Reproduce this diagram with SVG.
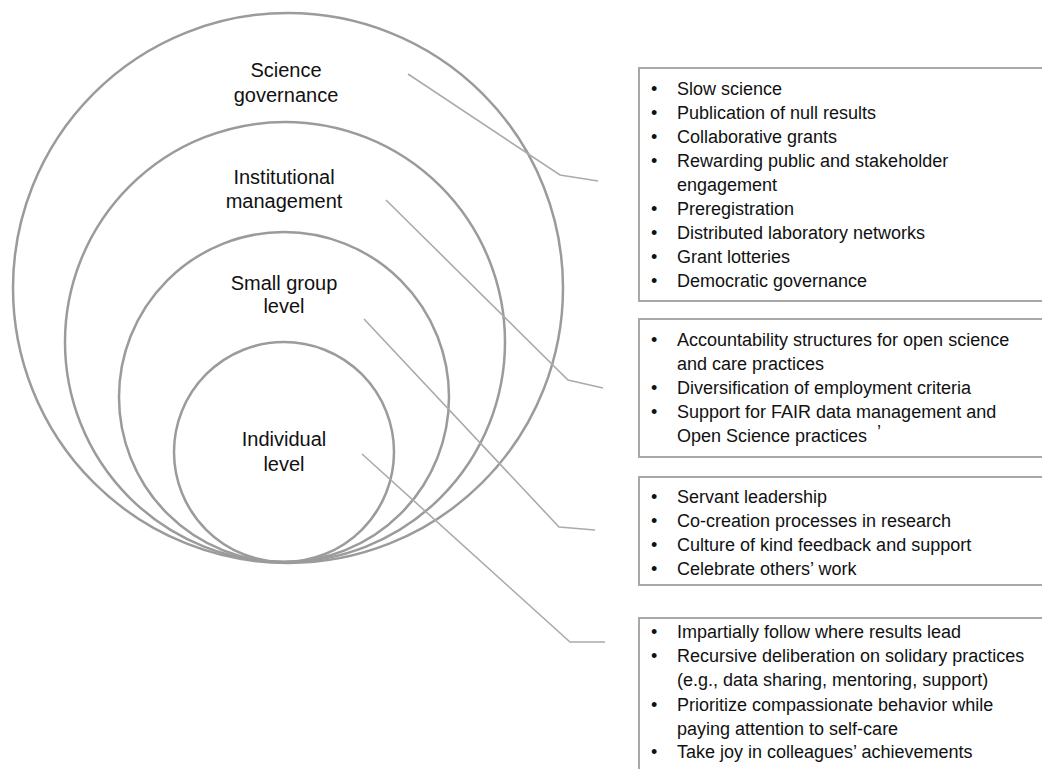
<svg xmlns="http://www.w3.org/2000/svg" width="1042" height="769" viewBox="0 0 1042 769">
<style>
.ring{fill:none;stroke:#9b9b9b;stroke-width:2.5}
.box{fill:#fff;stroke:#a8a8a8;stroke-width:2}
.con{fill:none;stroke:#ababab;stroke-width:1.6}
.lbl{font-family:"Liberation Sans",Arial,sans-serif;font-size:20px;fill:#111;text-anchor:middle}
.t{font-family:"Liberation Sans",Arial,sans-serif;font-size:18px;fill:#111}
</style>
<rect width="1042" height="769" fill="#fff"/>
<g id="ring-science-governance">
<circle class="ring" cx="288" cy="288" r="275"/>
<text class="lbl" x="286" y="77">Science</text>
<text class="lbl" x="286" y="102">governance</text>
</g>
<g id="ring-institutional-management">
<circle class="ring" cx="285" cy="342" r="220"/>
<text class="lbl" x="284" y="184">Institutional</text>
<text class="lbl" x="284" y="208">management</text>
</g>
<g id="ring-small-group">
<circle class="ring" cx="284" cy="397" r="165"/>
<text class="lbl" x="284" y="290">Small group</text>
<text class="lbl" x="284" y="313">level</text>
</g>
<g id="ring-individual">
<circle class="ring" cx="284" cy="452" r="110"/>
<text class="lbl" x="284" y="446">Individual</text>
<text class="lbl" x="284" y="471">level</text>
</g>
<g id="connectors">
<polyline class="con" points="408,74 560,175 598,181"/>
<polyline class="con" points="386,200 568,380 603,388"/>
<polyline class="con" points="364,319 559,527 595,530"/>
<polyline class="con" points="362,454 570,642 605,642"/>
</g>
<g id="box-science-governance">
<rect class="box" x="639" y="68" width="420" height="233"/>
<g class="t">
<text x="651" y="95">•</text><text x="677" y="95">Slow science</text>
<text x="651" y="119">•</text><text x="677" y="119">Publication of null results</text>
<text x="651" y="143">•</text><text x="677" y="143">Collaborative grants</text>
<text x="651" y="167">•</text><text x="677" y="167">Rewarding public and stakeholder</text>
<text x="677" y="191">engagement</text>
<text x="651" y="215">•</text><text x="677" y="215">Preregistration</text>
<text x="651" y="239">•</text><text x="677" y="239">Distributed laboratory networks</text>
<text x="651" y="263">•</text><text x="677" y="263">Grant lotteries</text>
<text x="651" y="287">•</text><text x="677" y="287">Democratic governance</text>
</g>
</g>
<g id="box-institutional-management">
<rect class="box" x="639" y="319" width="420" height="138"/>
<g class="t">
<text x="651" y="346">•</text><text x="677" y="346">Accountability structures for open science</text>
<text x="677" y="370">and care practices</text>
<text x="651" y="394">•</text><text x="677" y="394">Diversification of employment criteria</text>
<text x="651" y="418">•</text><text x="677" y="418">Support for FAIR data management and</text>
<text x="677" y="442">Open Science practices</text>
<text x="877" y="438">’</text>
</g>
</g>
<g id="box-small-group">
<rect class="box" x="639" y="477" width="420" height="108"/>
<g class="t">
<text x="651" y="503">•</text><text x="677" y="503">Servant leadership</text>
<text x="651" y="527">•</text><text x="677" y="527">Co-creation processes in research</text>
<text x="651" y="551">•</text><text x="677" y="551">Culture of kind feedback and support</text>
<text x="651" y="575">•</text><text x="677" y="575">Celebrate others’ work</text>
</g>
</g>
<g id="box-individual">
<rect class="box" x="639" y="618" width="420" height="170"/>
<g class="t">
<text x="651" y="638">•</text><text x="677" y="638">Impartially follow where results lead</text>
<text x="651" y="662">•</text><text x="677" y="662">Recursive deliberation on solidary practices</text>
<text x="677" y="686">(e.g., data sharing, mentoring, support)</text>
<text x="651" y="711">•</text><text x="677" y="711">Prioritize compassionate behavior while</text>
<text x="677" y="735">paying attention to self-care</text>
<text x="651" y="758">•</text><text x="677" y="758">Take joy in colleagues’ achievements</text>
</g>
</g>
</svg>
